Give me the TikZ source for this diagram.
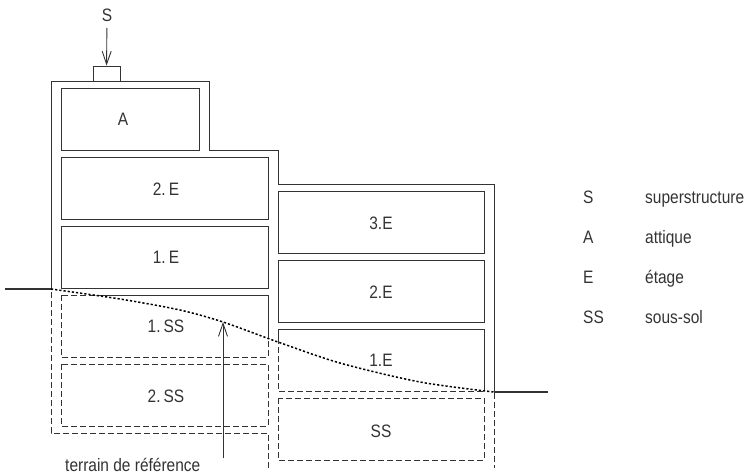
\documentclass[tikz,border=0pt]{standalone}
\usepackage{fontspec}
\setmainfont[FakeStretch=0.86]{Liberation Sans}
\usetikzlibrary{arrows.meta}
\definecolor{ink}{HTML}{333333}
\newcommand{\building}[1]{%
  \draw[#1] (268,468) -- (268,433) -- (51,433) -- (51,81) -- (209,81) -- (209,150)
    -- (278,150) -- (278,184) -- (494,184) -- (494,468);
  \draw[#1] (61,88) rectangle (199,150);
  \draw[#1] (61,157) rectangle (268,219);
  \draw[#1] (61,226) rectangle (268,288);
  \draw[#1] (61,295) rectangle (268,357);
  \draw[#1] (61,364) rectangle (268,426);
  \draw[#1] (278,191) rectangle (484,253);
  \draw[#1] (278,260) rectangle (484,322);
  \draw[#1] (278,329) rectangle (484,391);
  \draw[#1] (278,398) rectangle (484,460);
}

\begin{document}
\begin{tikzpicture}[
    x=1pt, y=-1pt,
    every node/.style={font=\fontsize{18}{21}\selectfont, text=ink},
    wall/.style={draw=ink, line width=0.9pt},
    hidden/.style={wall, dash pattern=on 6pt off 3pt},
    ground/.style={draw=ink, line width=1.6pt},
    terrainline/.style={draw=black, line width=1.5pt, dash pattern=on 2.2pt off 2pt},
    terrain/.style={insert path={-- plot[smooth] coordinates {(51,289) (120,299)
      (180,310) (223,322) (278,342) (340,363) (420,382) (494,392)}}},
    arr/.style={-{Straight Barb[length=13pt,width=9pt]}, draw=ink, line width=0.9pt},
    roofbox/.style={wall, minimum width=27pt, minimum height=15pt, inner sep=0pt},
    key/.style={anchor=base west, inner sep=0pt}
  ]
  \useasboundingbox (0,0) rectangle (752,475);

  % Walls and storeys above the terrain
  \begin{scope}
    \clip (0,0) -- (0,289) [terrain] -- (560,392) -- (560,0) -- cycle;
    \building{wall}
  \end{scope}

  % Walls and storeys below the terrain
  \begin{scope}
    \clip (0,480) -- (0,289) [terrain] -- (560,392) -- (560,480) -- cycle;
    \building{hidden}
  \end{scope}

  % Ground and terrain
  \draw[ground] (5,289) -- (51,289);
  \draw[ground] (494,392) -- (548,392);
  \draw[terrainline] (51,289) [terrain];

  % Superstructure
  \node (lS) at (107,15) {S};
  \node[roofbox] (roof) at (106.5,73.5) {};
  \draw[arr, shorten <=3pt] (lS) -- (roof);

  % Storey labels
  \node (lA) at (123,119) {A};
  \node (lE2) at (166,189) {2.\,E};
  \node (lE1) at (166,257) {1.\,E};
  \node (lSS1) at (166,326) {1.\,SS};
  \node (lSS2) at (166,396) {2.\,SS};
  \node (rE3) at (381,223) {3.E};
  \node (rE2) at (381,292) {2.E};
  \node (rE1) at (381,360) {1.E};
  \node (rSS) at (381,431) {SS};

  % Reference terrain
  \coordinate (tip) at (223,322);
  \coordinate (foot) at (223,458);
  \draw[arr] (foot) -- (tip);
  \node[key] (ref) at (65,471) {terrain de référence};

  % Legend
  \node[key] (kS) at (583,203) {S};
  \node[key] (kA) at (583,243) {A};
  \node[key] (kE) at (583,283) {E};
  \node[key] (kSS) at (583,323) {SS};
  \node[key] (tS) at (645,203) {superstructure};
  \node[key] (tA) at (645,243) {attique};
  \node[key] (tE) at (645,283) {étage};
  \node[key] (tSS) at (645,323) {sous-sol};

\end{tikzpicture}
\end{document}
